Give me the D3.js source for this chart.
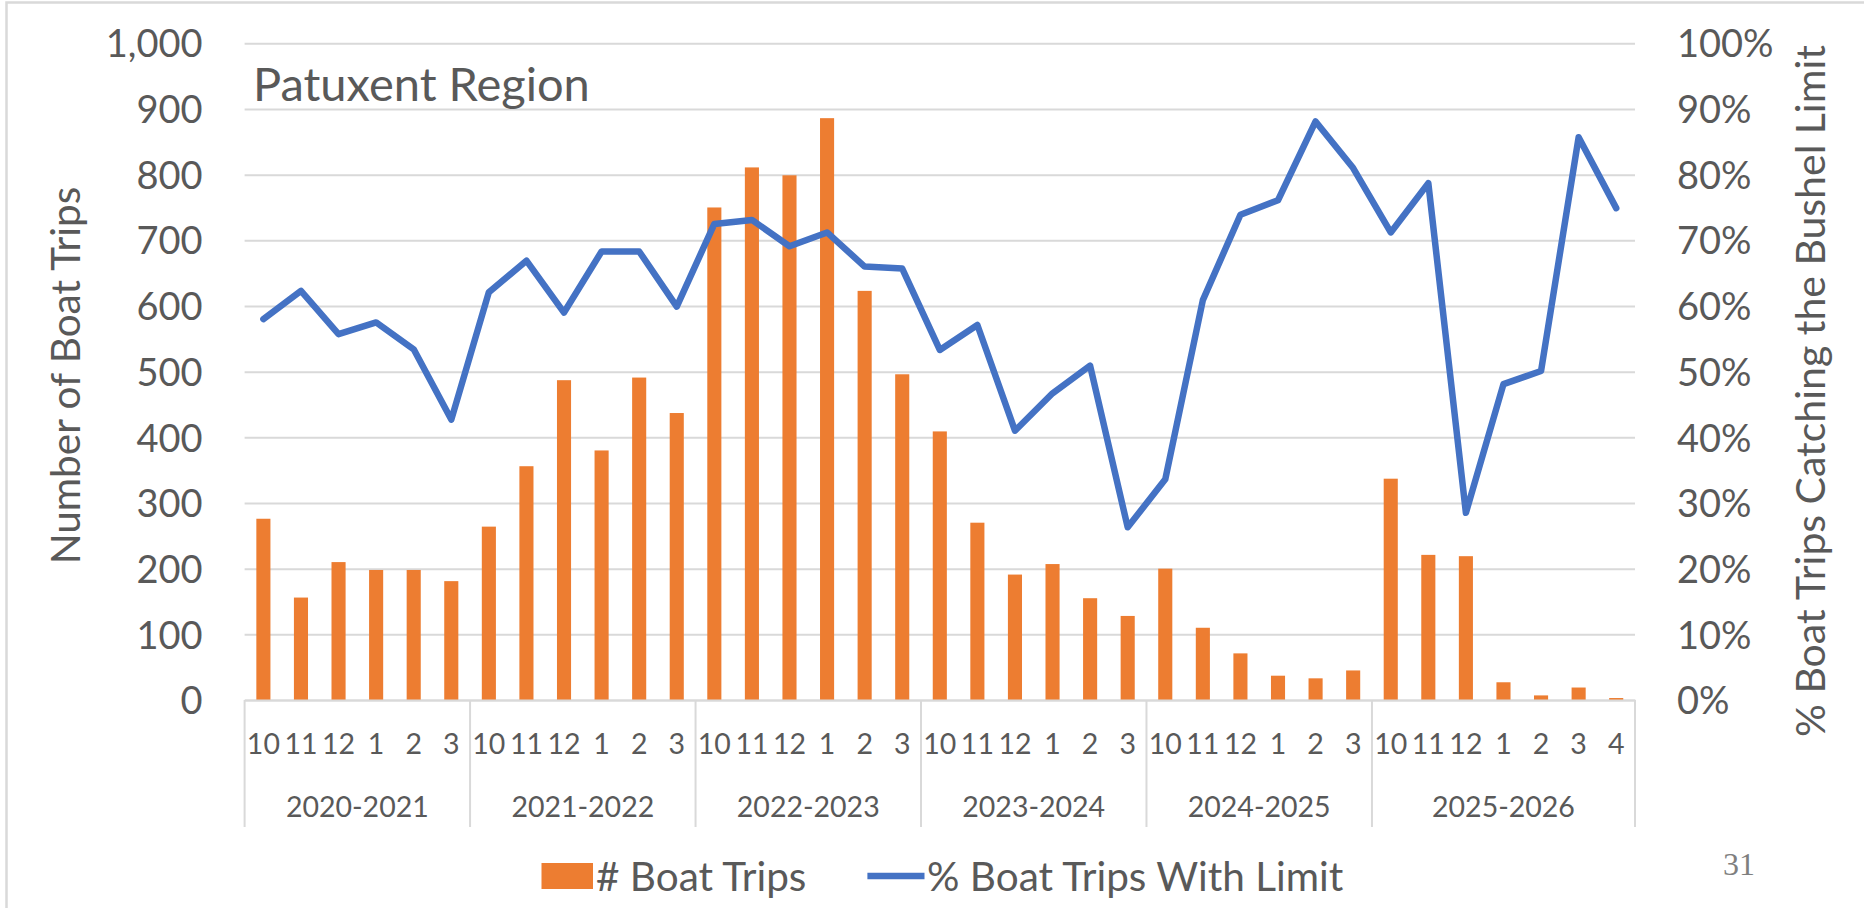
<!DOCTYPE html>
<html>
<head>
<meta charset="utf-8">
<script src="https://cdn.jsdelivr.net/npm/d3@7"></script>
<style>
	body { margin: 0; background: #fff; }
	svg { display: block; font-family: Lato, "Open Sans", sans-serif; }
	text { fill: #595959; }
</style>
</head>
<body>
<script>
"use strict";

const seasons = ["2020-2021", "2021-2022", "2022-2023", "2023-2024", "2024-2025", "2025-2026"];
const seasonMonths = [
	[10, 11, 12, 1, 2, 3],
	[10, 11, 12, 1, 2, 3],
	[10, 11, 12, 1, 2, 3],
	[10, 11, 12, 1, 2, 3],
	[10, 11, 12, 1, 2, 3],
	[10, 11, 12, 1, 2, 3, 4]
];
const boatTrips = [
	276, 156, 210, 198, 198, 181,
	264, 356, 487, 380, 491, 437,
	750, 811, 799, 886, 623, 496,
	409, 270, 191, 207, 155, 128,
	200, 110, 71, 37, 33, 45,
	337, 221, 219, 27, 7, 19, 3
];
const pctWithLimit = [
	58.0, 62.3, 55.7, 57.5, 53.4, 42.7,
	62.1, 66.9, 59.0, 68.3, 68.3, 59.9,
	72.5, 73.1, 69.1, 71.2, 66.0, 65.7,
	53.3, 57.1, 41.0, 46.7, 50.9, 26.3,
	33.6, 60.9, 73.9, 76.1, 88.1, 81.0,
	71.2, 78.7, 28.5, 48.1, 50.1, 85.7, 74.9
];
const countTicks = [0, 100, 200, 300, 400, 500, 600, 700, 800, 900, 1000];
const pctTicks = [0, 10, 20, 30, 40, 50, 60, 70, 80, 90, 100];

const width = 1864, height = 908;
const plot = {left: 244.6, right: 1635, top: 43.3, bottom: 700};

// one entry per month, remembering which season it belongs to
let months = [];
seasonMonths.forEach((list, s) => {
	list.forEach(m => months.push({season: s, month: m}));
});

const svg = d3.select("body").append("svg")
	.attr("width", width)
	.attr("height", height);

svg.append("rect").attr("width", width).attr("height", height).attr("fill", "#fff");

// frame of the slide picture (top and left edges only)
svg.append("path")
	.attr("d", `M6.5,${height} V2.5 H${width}`)
	.attr("fill", "none")
	.attr("stroke", "#d9d9d9")
	.attr("stroke-width", 2.5);

const x = d3.scaleBand()
	.domain(d3.range(months.length))
	.range([plot.left, plot.right])
	.padding(0);

const yCount = d3.scaleLinear().domain([0, 1000]).range([plot.bottom, plot.top]);
const yPct = d3.scaleLinear().domain([0, 100]).range([plot.bottom, plot.top]);

// left axis + gridlines
const leftAxis = svg.append("g")
	.attr("transform", `translate(${plot.left},0)`)
	.call(d3.axisLeft(yCount)
		.tickValues(countTicks)
		.tickFormat(d3.format(","))
		.tickSize(-(plot.right - plot.left))
		.tickPadding(42));
leftAxis.select(".domain").remove();
leftAxis.selectAll(".tick line").attr("stroke", "#d9d9d9").attr("stroke-width", 2);
leftAxis.selectAll(".tick text")
	.attr("font-size", 38)
	.attr("font-family", "Lato")
	.attr("dy", "0.36em");

// right axis
const rightAxis = svg.append("g")
	.attr("transform", `translate(${plot.right},0)`)
	.call(d3.axisRight(yPct)
		.tickValues(pctTicks)
		.tickFormat(d => d + "%")
		.tickSize(0)
		.tickPadding(42));
rightAxis.select(".domain").remove();
rightAxis.selectAll(".tick text")
	.attr("font-size", 38)
	.attr("font-family", "Lato")
	.attr("dy", "0.36em");

// bars
const barW = x.bandwidth() * 0.375;
svg.append("g").selectAll("rect")
	.data(boatTrips)
	.join("rect")
	.attr("x", (d, i) => x(i) + (x.bandwidth() - barW) / 2)
	.attr("y", d => yCount(d))
	.attr("width", barW)
	.attr("height", d => yCount(0) - yCount(d))
	.attr("fill", "#ed7d31");

// category axis: month row, season row and separators
const bottomAxis = svg.append("g")
	.attr("transform", `translate(0,${plot.bottom})`)
	.call(d3.axisBottom(x)
		.tickFormat(i => months[i].month)
		.tickSize(0)
		.tickPadding(34));
bottomAxis.select(".domain")
	.attr("stroke", "#d9d9d9")
	.attr("stroke-width", 2);
bottomAxis.selectAll(".tick text")
	.attr("font-size", 28.5)
	.attr("font-family", "Lato");

let bounds = [0];
seasonMonths.forEach(list => bounds.push(bounds[bounds.length - 1] + list.length));

svg.append("g").selectAll("line")
	.data(bounds)
	.join("line")
	.attr("x1", b => b < months.length ? x(b) : plot.right)
	.attr("x2", b => b < months.length ? x(b) : plot.right)
	.attr("y1", plot.bottom)
	.attr("y2", 827)
	.attr("stroke", "#d9d9d9")
	.attr("stroke-width", 2);

svg.append("g").selectAll("text")
	.data(seasons)
	.join("text")
	.attr("x", (d, s) => {
		const a = x(bounds[s]);
		const b = bounds[s + 1] < months.length ? x(bounds[s + 1]) : plot.right;
		return (a + b) / 2;
	})
	.attr("y", 817)
	.attr("text-anchor", "middle")
	.attr("font-size", 28.5)
	.text(d => d);

// line series
const line = d3.line()
	.x((d, i) => x(i) + x.bandwidth() / 2)
	.y(d => yPct(d));

svg.append("path")
	.datum(pctWithLimit)
	.attr("d", line)
	.attr("fill", "none")
	.attr("stroke", "#4472c4")
	.attr("stroke-width", 6.5)
	.attr("stroke-linejoin", "round")
	.attr("stroke-linecap", "round");

// titles
svg.append("text")
	.attr("x", 253)
	.attr("y", 101)
	.attr("font-size", 47)
	.text("Patuxent Region");

svg.append("text")
	.attr("transform", "translate(80,375.5) rotate(-90)")
	.attr("text-anchor", "middle")
	.attr("font-size", 40.5)
	.text("Number of Boat Trips");

svg.append("text")
	.attr("transform", "translate(1825,391) rotate(-90)")
	.attr("text-anchor", "middle")
	.attr("font-size", 41)
	.text("% Boat Trips Catching the Bushel Limit");

// legend
const legend = svg.append("g");
legend.append("rect")
	.attr("x", 541.5)
	.attr("y", 863)
	.attr("width", 51.5)
	.attr("height", 26)
	.attr("fill", "#ed7d31");
legend.append("text")
	.attr("x", 596)
	.attr("y", 890.5)
	.attr("font-size", 40.5)
	.text("# Boat Trips");
legend.append("line")
	.attr("x1", 867.4)
	.attr("x2", 924.5)
	.attr("y1", 876)
	.attr("y2", 876)
	.attr("stroke", "#4472c4")
	.attr("stroke-width", 6.5);
legend.append("text")
	.attr("x", 927)
	.attr("y", 890.5)
	.attr("font-size", 40.5)
	.text("% Boat Trips With Limit");

// slide number
svg.append("text")
	.attr("x", 1723)
	.attr("y", 875)
	.attr("font-family", "Liberation Serif")
	.attr("font-size", 32)
	.style("fill", "#7f7f7f")
	.text("31");
</script>
</body>
</html>
